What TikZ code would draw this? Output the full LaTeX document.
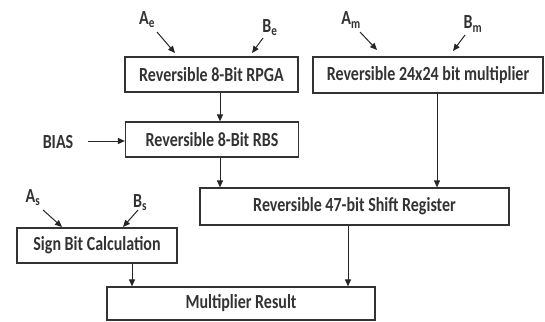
\documentclass[tikz,border=0pt]{standalone}
\usepackage{fontspec}
\setmainfont[FakeStretch=0.8]{Carlito}
\usetikzlibrary{arrows.meta}
\begin{document}
\begin{tikzpicture}[x=1pt,y=-1pt,
  blk/.style={draw=black!80,line width=1.2pt,minimum height=35pt,inner sep=0pt,font=\fontsize{20}{22}\selectfont\bfseries,text=black!80},
  lbl/.style={font=\fontsize{20}{22}\selectfont\bfseries,text=black!80,inner sep=0pt},
  arr/.style={draw=black!85,line width=1pt,-{Triangle[length=7pt,width=6pt]}}]
\useasboundingbox (0,0) rectangle (545,321);
\node[blk,minimum width=173pt] (rpga) at (211.5,74.5) {Reversible 8-Bit RPGA};
\node[blk,minimum width=173pt] (rbs) at (212,139.5) {Reversible 8-Bit RBS};
\node[blk,minimum width=230pt,minimum height=36pt] (mul) at (428,75) {Reversible 24x24 bit multiplier};
\node[blk,minimum width=309pt,minimum height=37pt] (sr) at (354.5,206.5) {Reversible 47-bit Shift Register};
\node[blk,minimum width=160pt] (sign) at (97,245.5) {Sign Bit Calculation};
\node[blk,minimum width=268pt,minimum height=33pt] (res) at (241,303.5) {Multiplier Result};
\node[lbl] (bias) at (58,142) {BIAS};
\node[lbl] (ae) at (147,20) {A\textsubscript{e}};
\node[lbl] (be) at (270,28) {B\textsubscript{e}};
\node[lbl] (am) at (351,20) {A\textsubscript{m}};
\node[lbl] (bm) at (473,24) {B\textsubscript{m}};
\node[lbl] (as) at (33,198) {A\textsubscript{s}};
\node[lbl] (bs) at (140,203) {B\textsubscript{s}};
\coordinate (ae1) at (157,32); \coordinate (ae2) at (175,53);
\coordinate (be1) at (263,38); \coordinate (be2) at (252,53);
\coordinate (am1) at (360,32); \coordinate (am2) at (377,50);
\coordinate (bm1) at (465,35); \coordinate (bm2) at (453,51);
\coordinate (as1) at (43,210); \coordinate (as2) at (62,227);
\coordinate (bs1) at (138,210); \coordinate (bs2) at (123,227);
\coordinate (bi1) at (88,141);
\draw[arr] (ae1) -- (ae2);
\draw[arr] (be1) -- (be2);
\draw[arr] (am1) -- (am2);
\draw[arr] (bm1) -- (bm2);
\draw[arr] (as1) -- (as2);
\draw[arr] (bs1) -- (bs2);
\draw[arr] (bi1) -- (rbs.west |- bi1);
\draw[arr] (rpga.south -| 220,0) -- (rbs.north -| 220,0);
\draw[arr] (rbs.south -| 220,0) -- (sr.north -| 220,0);
\draw[arr] (mul.south -| 437,0) -- (sr.north -| 437,0);
\draw[arr] (sr.south -| 348,0) -- (res.north -| 348,0);
\draw[arr] (sign.south -| 132,0) -- (res.north -| 132,0);
\end{tikzpicture}
\end{document}
